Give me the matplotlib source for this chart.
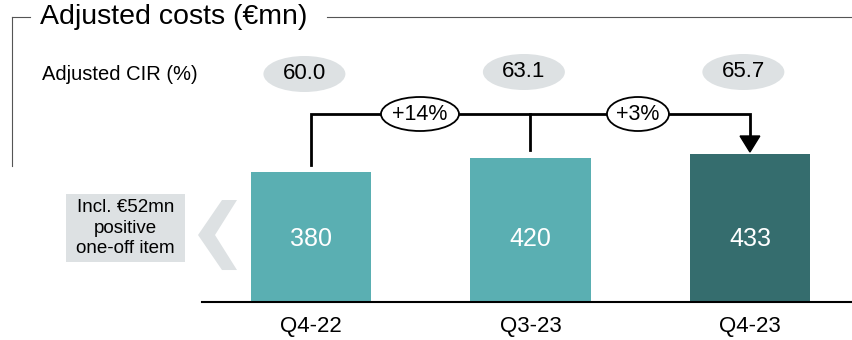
import matplotlib.pyplot as plt
from matplotlib.patches import Ellipse, Rectangle, Polygon

plt.rcParams['font.family'] = ['Liberation Sans', 'DejaVu Sans']

# Data
quarters = ["Q4-22", "Q3-23", "Q4-23"]
costs = [380, 420, 433]
cir = ["60.0", "63.1", "65.7"]
changes = ["+14%", "+3%"]
bar_colors = ["#5aafb2", "#5aafb2", "#356d6e"]

fig = plt.figure(figsize=(8.52, 3.40), dpi=100)
ax = fig.add_axes([0, 0, 1, 1])
ax.set_xlim(-1.417, 2.465)
ax.set_ylim(-111, 883)
ax.axis("off")

# pixel -> data helpers
def px(x):
    return (x - 311) / 219.5

def py(y):
    return (302 - y) / 0.342

x = [0, 1, 2]
bars = ax.bar(x, costs, width=0.55, color=bar_colors, zorder=2)
for b, v in zip(bars, costs):
    ax.text(b.get_x() + b.get_width() / 2, py(239), str(v), ha="center", va="center",
            color="white", fontsize=18)

# baseline
ax.plot([px(202), px(852)], [0, 0], color="black", lw=1.5, zorder=3)

# x labels
for xi, q in zip(x, quarters):
    ax.text(xi, py(326), q, ha="center", va="center", fontsize=16)

# title frame
ax.text(px(40), py(17), "Adjusted costs (€mn)", ha="left", va="center", fontsize=20.5)
ax.plot([px(327), px(852)], [py(17), py(17)], color="#555555", lw=0.8)
ax.plot([px(12), px(30)], [py(17), py(17)], color="#555555", lw=0.8)
ax.plot([px(12), px(12)], [py(17), py(166)], color="#555555", lw=0.8)

# CIR row
ax.text(px(42), py(75), "Adjusted CIR (%)", ha="left", va="center", fontsize=14.5)
cir_y = [py(74), py(72), py(72)]
for xi, c, cy in zip(x, cir, cir_y):
    ax.add_patch(Ellipse((xi - 0.03, cy), 82 / 219.5, 36 / 0.342, color="#dde1e3", lw=0))
    ax.text(xi - 0.03, cy, c, ha="center", va="center", fontsize=16)

# growth bracket
yb = py(114)
ax.plot([0, 0, 2, 2], [costs[0] + 20, yb, yb, py(140)], color="black", lw=2,
        solid_joinstyle="miter", zorder=4)
ax.plot([1, 1], [yb, costs[1] + 25], color="black", lw=2, zorder=4)
ax.add_patch(Polygon([[2 - 0.045, py(136)], [2 + 0.045, py(136)], [2, py(152)]],
                     closed=True, color="black", zorder=4))
for cx, w, t in [(px(420), 78, changes[0]), (px(638), 62, changes[1])]:
    ax.add_patch(Ellipse((cx, yb), w / 219.5, 34 / 0.342, facecolor="white",
                         edgecolor="black", lw=1.3, zorder=5))
    ax.text(cx, yb, t, ha="center", va="center", fontsize=15.5, zorder=6)

# one-off callout
ax.add_patch(Rectangle((px(66), py(262)), 119 / 219.5, 68 / 0.342,
                       color="#dde1e3", lw=0, zorder=1))
ax.text(px(125.5), py(228), "Incl. €52mn\npositive\none-off item", ha="center",
        va="center", fontsize=13.5, linespacing=1.3)
ax.add_patch(Polygon([[px(237), py(200)], [px(222), py(200)], [px(198), py(235)],
                      [px(222), py(270)], [px(237), py(270)], [px(215), py(235)]],
                     closed=True, color="#dde1e3", lw=0))

fig.savefig("out.png", dpi=100)
